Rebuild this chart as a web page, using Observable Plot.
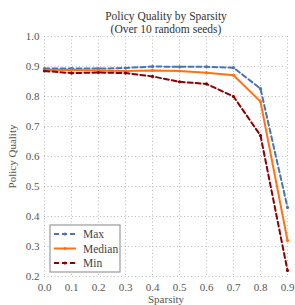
<!DOCTYPE html>
<html><head><meta charset="utf-8">
<script src="https://cdn.jsdelivr.net/npm/d3@7"></script>
<script src="https://cdn.jsdelivr.net/npm/@observablehq/plot@0.6"></script>
<style>body{margin:0;background:#fff}#c{position:relative;width:295px;height:305px}</style>
</head><body><div id="c"></div>
<script>
const sparsity = [0.0,0.1,0.2,0.3,0.4,0.5,0.6,0.7,0.8,0.9];
const maxQ    = [0.893,0.893,0.893,0.895,0.900,0.899,0.899,0.896,0.826,0.43];
const medianQ = [0.888,0.888,0.887,0.885,0.887,0.885,0.879,0.871,0.783,0.32];
const minQ    = [0.885,0.878,0.880,0.878,0.867,0.849,0.842,0.800,0.670,0.22];
const seriesNames = ["Max","Median","Min"];
const colors = ["#4c72b0","#ff7213","#8b0000"];
const dashes = ["5,3","none","5,3"];
const xTicks = [0,0.1,0.2,0.3,0.4,0.5,0.6,0.7,0.8,0.9];
const yTicks = [0.2,0.3,0.4,0.5,0.6,0.7,0.8,0.9,1.0];

const vals = [maxQ, medianQ, minQ];
const rows = [];
seriesNames.forEach((s,i)=>sparsity.forEach((x,j)=>rows.push({s, x, y: vals[i][j]})));
const font = "'Liberation Serif', 'DejaVu Serif', serif";

const marks = [
  Plot.gridX(xTicks,{stroke:"#aaa",strokeOpacity:1,strokeDasharray:"1,2.5",strokeWidth:0.8}),
  Plot.gridY(yTicks,{stroke:"#aaa",strokeOpacity:1,strokeDasharray:"1,2.5",strokeWidth:0.8}),
  Plot.axisX(xTicks,{tickSize:0,tickPadding:7,tickFormat:d3.format(".1f"),fontSize:11,fill:"#555",label:"Sparsity",labelAnchor:"center",labelArrow:"none",labelOffset:26}),
  Plot.axisY(yTicks,{tickSize:0,tickPadding:5,tickFormat:d3.format(".1f"),fontSize:11,fill:"#555",label:"Policy Quality",labelAnchor:"center",labelArrow:"none",labelOffset:36})
];
seriesNames.forEach((s,i)=>{
  const d = rows.filter(r=>r.s===s);
  marks.push(Plot.line(d,{x:"x",y:"y",stroke:colors[i],strokeWidth:2,strokeDasharray:dashes[i]}));
  marks.push(Plot.dot(d,{x:"x",y:"y",fill:colors[i],r:1.6}));
});
marks.push(Plot.text(["Policy Quality by Sparsity"],{frameAnchor:"top",dy:-25,fontSize:11.5,fill:"#333"}));
marks.push(Plot.text(["(Over 10 random seeds)"],{frameAnchor:"top",dy:-12,fontSize:11.5,fill:"#333"}));

const chart = Plot.plot({
  width:295, height:305,
  marginLeft:44, marginRight:8, marginTop:36, marginBottom:29,
  style:{fontFamily:font, fontSize:"11px", color:"#555", background:"#fff"},
  x:{domain:[0,0.9]},
  y:{domain:[0.2,1.0]},
  marks
});
document.getElementById("c").appendChild(chart);

// legend
const svg = d3.select(chart);
const lx = 50, ly = 225, lw = 70, lh = 47;
const g = svg.append("g").attr("font-family", font).attr("font-size", 11.5).attr("text-anchor","start");
g.append("rect").attr("x",lx).attr("y",ly).attr("width",lw).attr("height",lh)
  .attr("fill","#fff").attr("stroke","#999").attr("stroke-width",1.2);
seriesNames.forEach((s,i)=>{
  const yy = ly + 9 + i*14.5;
  g.append("line").attr("x1",lx+4).attr("x2",lx+26).attr("y1",yy).attr("y2",yy)
    .attr("stroke",colors[i]).attr("stroke-width",2).attr("stroke-dasharray",dashes[i]==="none"?null:"5,3");
  g.append("circle").attr("cx",lx+15).attr("cy",yy).attr("r",1.6).attr("fill",colors[i]);
  g.append("text").attr("x",lx+33).attr("y",yy+4).attr("fill","#444").text(s);
});
</script></body></html>
